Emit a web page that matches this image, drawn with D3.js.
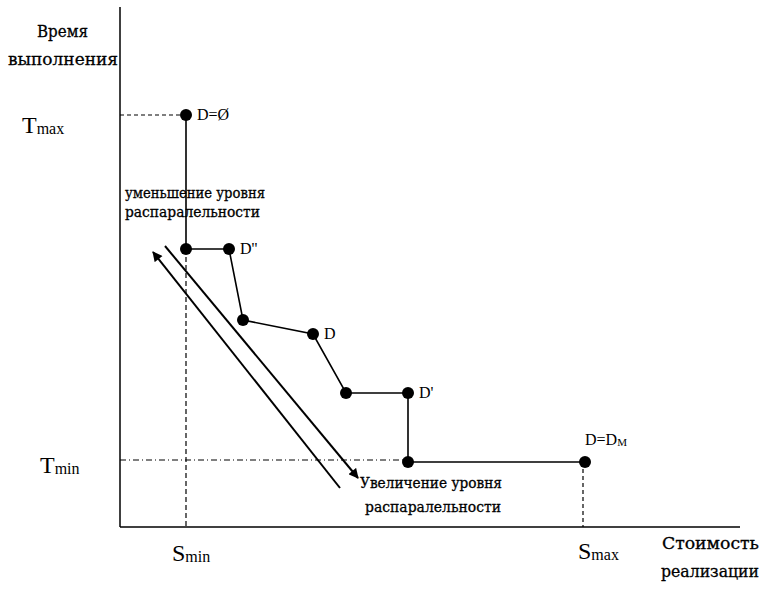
<!DOCTYPE html>
<html>
<head>
<meta charset="utf-8">
<script src="https://cdn.jsdelivr.net/npm/d3@7"></script>
<style>
	body { margin: 0; background: #fff; }
</style>
</head>
<body>
<div id="chart"></div>
<script>
// Точки кривой "стоимость - время" (условные единицы)
const costs = [3.3, 3.3, 5.45, 6.15, 9.65, 11.3, 14.4, 14.4, 23.25];
const times = [20.6, 13.9, 13.9, 10.35, 9.65, 6.7, 6.7, 3.25, 3.25];
const pointLabels = ["D=Ø", "", "D''", "", "D", "", "D'", "", ""];

// Граничные значения
const sMin = 3.3, sMax = 23.15;
const tMax = 20.6, tMin = 3.35;

// Стрелки [x1, y1, x2, y2] (от начала к острию)
const arrowUp = [11.0, 1.95, 1.65, 13.75];
const arrowDown = [2.25, 14.05, 11.9, 2.45];

const width = 771, height = 591;
const margin = { top: 7, left: 120, right: 31, bottom: 64 };
const serif = "'Liberation Serif', 'Times New Roman', serif";
const cyr = "'DejaVu Serif', 'Liberation Serif', serif";

const svg = d3.select("#chart")
	.append("svg")
	.attr("width", width)
	.attr("height", height)
	.attr("font-family", serif);

const x = d3.scaleLinear().domain([0, 31]).range([margin.left, width - margin.right]);
const y = d3.scaleLinear().domain([0, 26]).range([height - margin.bottom, margin.top]);

svg.append("defs").append("marker")
	.attr("id", "head")
	.attr("viewBox", "0 0 10 10")
	.attr("refX", 9).attr("refY", 5)
	.attr("markerWidth", 11).attr("markerHeight", 10)
	.attr("markerUnits", "userSpaceOnUse")
	.attr("orient", "auto")
	.append("path")
	.attr("d", "M0,0 L10,5 L0,10 Z")
	.attr("fill", "#000");

// Оси
svg.append("line")
	.attr("x1", x(0)).attr("x2", x(0))
	.attr("y1", y(0)).attr("y2", y(26))
	.attr("stroke", "#000").attr("stroke-width", 1.5);
svg.append("line")
	.attr("x1", x(0)).attr("x2", x(31))
	.attr("y1", y(0)).attr("y2", y(0))
	.attr("stroke", "#000").attr("stroke-width", 1.5);

// Вспомогательные пунктиры
const guides = [
	{ x1: 0, y1: tMax, x2: sMin, y2: tMax, dash: "4,3" },
	{ x1: sMin, y1: times[1], x2: sMin, y2: 0, dash: "5,3" },
	{ x1: 0, y1: tMin, x2: costs[7], y2: tMin, dash: "6,3,1,3" },
	{ x1: sMax, y1: times[8], x2: sMax, y2: 0, dash: "4,3" }
];
svg.append("g")
	.selectAll("line")
	.data(guides)
	.join("line")
	.attr("x1", (d) => x(d.x1)).attr("y1", (d) => y(d.y1))
	.attr("x2", (d) => x(d.x2)).attr("y2", (d) => y(d.y2))
	.attr("stroke", "#000")
	.attr("stroke-width", 1.2)
	.attr("stroke-dasharray", (d) => d.dash);

// Ломаная
const pts = costs.map((c, i) => [c, times[i]]);
svg.append("path")
	.datum(pts)
	.attr("fill", "none")
	.attr("stroke", "#000")
	.attr("stroke-width", 1.6)
	.attr("d", d3.line().x((d) => x(d[0])).y((d) => y(d[1])));

svg.append("g")
	.selectAll("circle")
	.data(pts)
	.join("circle")
	.attr("cx", (d) => x(d[0]))
	.attr("cy", (d) => y(d[1]))
	.attr("r", 6)
	.attr("fill", "#000");

// Стрелки
svg.append("g")
	.selectAll("line")
	.data([arrowUp, arrowDown])
	.join("line")
	.attr("x1", (d) => x(d[0])).attr("y1", (d) => y(d[1]))
	.attr("x2", (d) => x(d[2])).attr("y2", (d) => y(d[3]))
	.attr("stroke", "#000")
	.attr("stroke-width", 2)
	.attr("marker-end", "url(#head)");

// Подписи точек
svg.append("g")
	.selectAll("text")
	.data(pts.map((d, i) => [d, pointLabels[i]]).filter((d) => d[1]))
	.join("text")
	.attr("x", (d) => x(d[0][0]) + 11)
	.attr("y", (d) => y(d[0][1]) + 5)
	.style("font-size", "16px")
	.text((d) => d[1]);

// D=DM над последней точкой
const dm = svg.append("text")
	.attr("x", x(costs[8]) + 0)
	.attr("y", y(times[8]) - 17)
	.style("font-size", "16px");
dm.append("tspan").text("D=D");
dm.append("tspan").style("font-size", "11px").attr("dy", 1).text("M");

// Тексты
const addText = (txt, px, py, size, len) => {
	const t = svg.append("text")
		.attr("x", px).attr("y", py)
		.attr("font-family", cyr)
		.attr("stroke", "#000")
		.attr("stroke-width", 0.3)
		.style("font-size", size + "px")
		.text(txt);
	if (len) t.attr("textLength", len).attr("lengthAdjust", "spacingAndGlyphs");
	return t;
};

addText("Время", 37, 37, 17, 51);
addText("выполнения", 8, 65, 17, 110);
addText("Стоимость", 662, 549, 16, 97);
addText("реализации", 661, 577, 16, 98);

addText("уменьшение уровня", 125, 198, 15, 140);
addText("распаралельности", 125, 217, 15, 135);
addText("Увеличение уровня", 360, 488, 15, 142);
addText("распаралельности", 365, 512, 15, 136);

const sub = (main, s, px, py) => {
	const t = svg.append("text").attr("x", px).attr("y", py).style("font-size", "24px");
	t.append("tspan").text(main);
	t.append("tspan").style("font-size", "16px").attr("dy", 1).text(s);
};
sub("T", "max", 22, 133);
sub("T", "min", 40, 473);
sub("S", "min", 172, 561);
sub("S", "max", 578, 559);
</script>
</body>
</html>
